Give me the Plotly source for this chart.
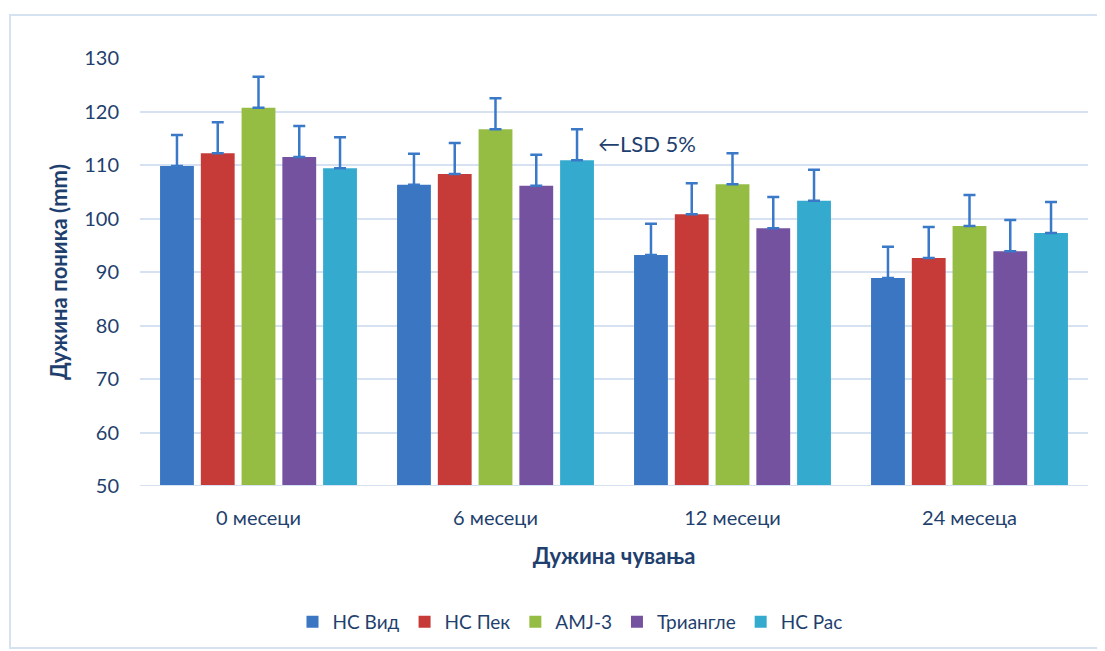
import plotly.graph_objects as go

categories = ["0 месеци", "6 месеци", "12 месеци", "24 месеца"]
series_names = ["НС Вид", "НС Пек", "AMJ-3", "Триангле", "НС Рас"]
nc_vid = [109.8, 106.3, 93.2, 88.9]
nc_pek = [112.2, 108.3, 100.8, 92.6]
amj3 = [120.7, 116.7, 106.4, 98.6]
triangle = [111.5, 106.1, 98.2, 93.9]
nc_ras = [109.4, 110.9, 103.3, 97.3]
lsd = 5.8
y_ticks = [50, 60, 70, 80, 90, 100, 110, 120, 130]

series_values = [nc_vid, nc_pek, amj3, triangle, nc_ras]
colors = ["#3a76c2", "#c63b38", "#95bd44", "#7552a0", "#34aacf"]

text_color = "#1f3f6e"
font_family = "Lato, Calibri, 'Open Sans', sans-serif"

fig = go.Figure()
for name, vals, c in zip(series_names, series_values, colors):
    fig.add_trace(go.Bar(
        name=name, x=categories, y=[v - 50 for v in vals], base=50,
        marker=dict(color=c, line=dict(width=0)),
        error_y=dict(type="constant", value=lsd, symmetric=False, valueminus=0,
                     color="#3a78c8", thickness=2.5, width=6),
    ))

W, H = 1105, 651
OFF = 8  # page body margin
L, R, T, B = 140, 1088, 58, 486  # target plot area in page pixels
l, t = L - OFF, T - OFF
r = W - (R - OFF)
b = H - (B - OFF)
pw, ph = R - L, B - T


def px(x):
    return (x - L) / pw


def py(y):
    return (B - y) / ph


fig.update_layout(
    width=W, height=H,
    margin=dict(l=l, r=r, t=t, b=b),
    paper_bgcolor="white", plot_bgcolor="white",
    barmode="group", bargap=0.14, bargroupgap=0.17,
    font=dict(family=font_family, color=text_color, size=20),
    showlegend=True,
    legend=dict(orientation="h", x=px(570), xanchor="center", y=py(622), yanchor="middle",
                font=dict(size=19, color=text_color), traceorder="normal",
                itemwidth=30),
    xaxis=dict(tickfont=dict(size=20, color=text_color), showline=False, ticks="",
               ticklabelstandoff=18,
               title=dict(text="<b>Дужина чувања</b>",
                          font=dict(size=22, color=text_color), standoff=20)),
    yaxis=dict(range=[50, 130], tickvals=y_ticks, showgrid=True, gridcolor="#d6e2f1",
               gridwidth=2, zeroline=False, showline=False, ticks="", ticklabelstandoff=20,
               tickfont=dict(size=20, color=text_color),
               title=dict(text="<b>Дужина поника (mm)</b>", font=dict(size=22, color=text_color),
                          standoff=10)),
    shapes=[
        dict(type="rect", xref="paper", yref="paper",
             x0=px(10), x1=px(1100), y0=py(648), y1=py(15),
             line=dict(color="#d6e2f1", width=2), fillcolor="rgba(0,0,0,0)", layer="below"),
        dict(type="line", xref="paper", yref="y", x0=0, x1=1, y0=50, y1=50,
             line=dict(color="#d6e2f1", width=2)),
    ],
    annotations=[
        dict(text="←LSD 5%", xref="paper", yref="paper", x=px(596), y=py(143),
             xanchor="left", yanchor="middle", showarrow=False,
             font=dict(size=22, color=text_color)),
    ],
)

fig.write_html("out.html")
